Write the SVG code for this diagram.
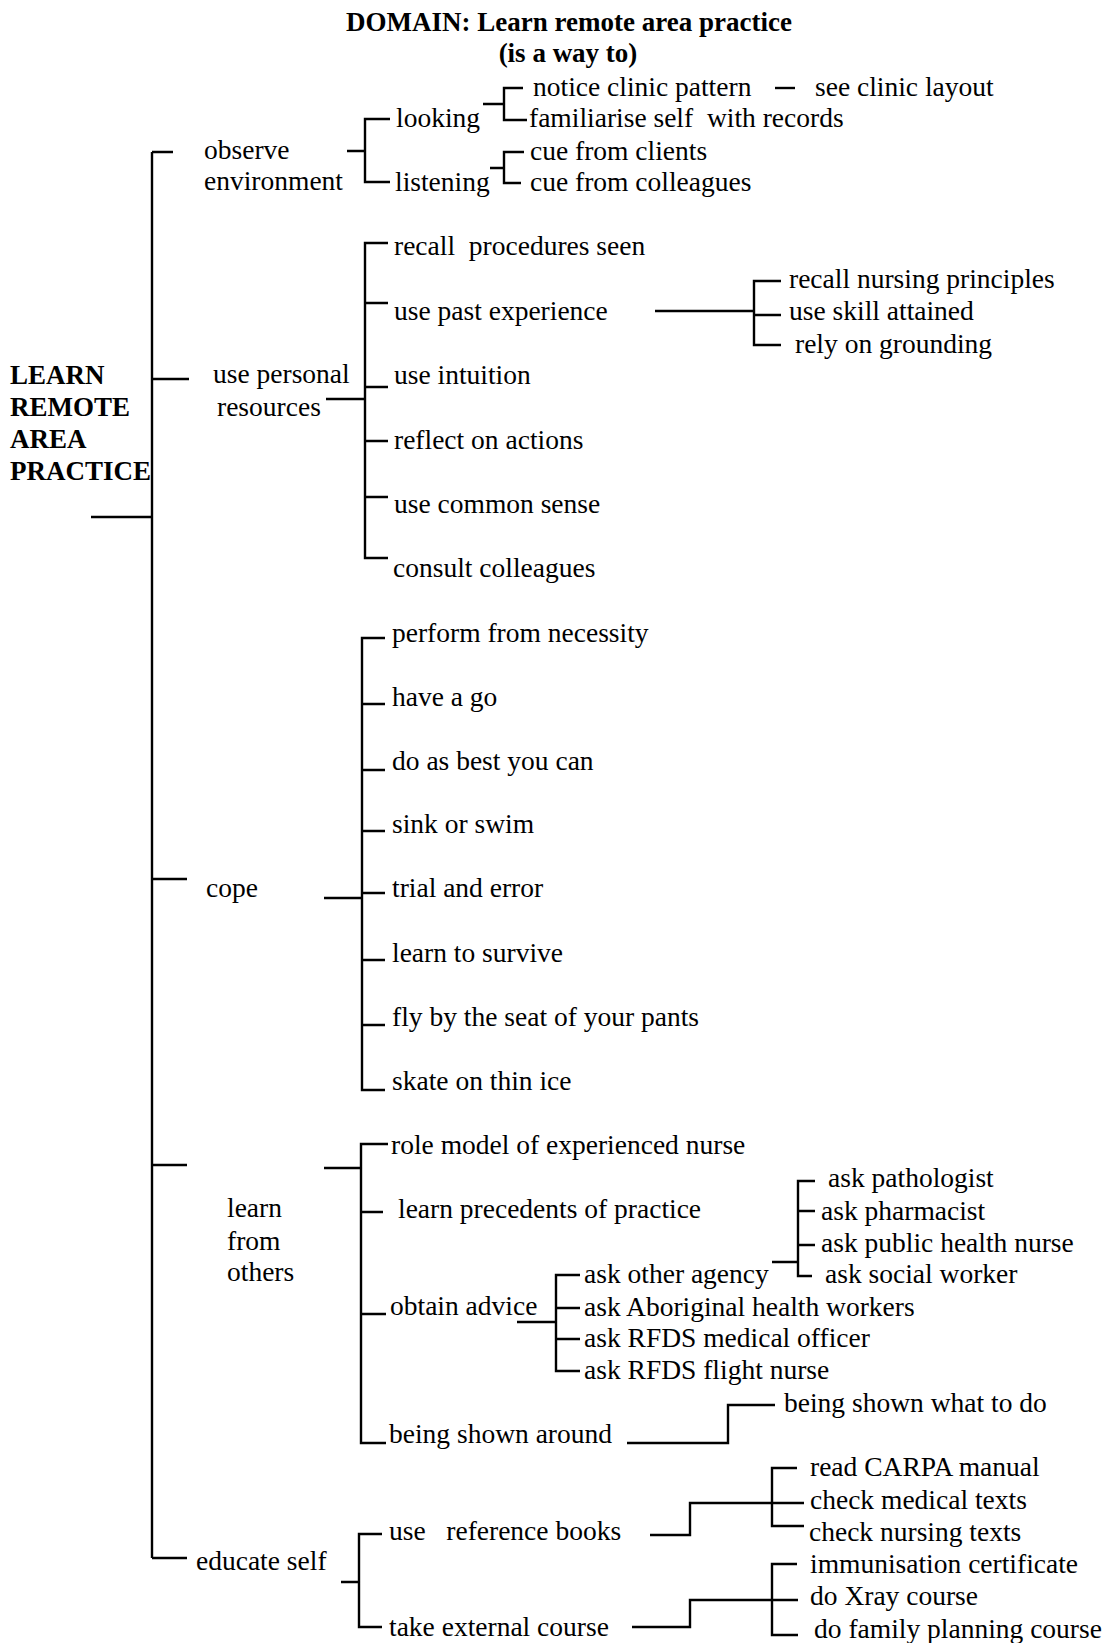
<svg xmlns="http://www.w3.org/2000/svg" width="1115" height="1643" viewBox="0 0 1115 1643">
<style>
text{font-family:"Liberation Serif","Times New Roman",serif;font-size:27.5px;fill:#000;white-space:pre}
.b{font-weight:bold;font-size:27px}
.c{fill:none;stroke:#000;stroke-width:2.4}
</style>
<rect width="1115" height="1643" fill="#fff"/>
<g id="title">
<text class="b" x="569" y="31" text-anchor="middle">DOMAIN: Learn remote area practice</text>
<text class="b" x="568" y="62" text-anchor="middle">(is a way to)</text>
</g>
<g id="connectors" class="c">
<path class="c" d="M152,152 V1558 M91,517 H152 M152,152 H173 M152,379 H189 M152,879 H187 M152,1165 H187 M152,1558 H187"/>
<path class="c" d="M347,151 H365 M390,119 H365 V182 H390"/>
<path class="c" d="M483,104 H504 M523,88 H504 V120 H527"/>
<path class="c" d="M490,168 H504 M524,152 H504 V183 H521"/>
<path class="c" d="M775,88 H795"/>
<path class="c" d="M326,399 H365 M388,243 H365 V558 H388 M365,303 H388 M365,387 H388 M365,441 H388 M365,497 H388"/>
<path class="c" d="M655,311 H754 M781,281 H754 V345 H781 M754,315 H781"/>
<path class="c" d="M324,898 H362 M385,638 H362 V1090 H385 M362,704 H385 M362,770 H385 M362,831 H385 M362,893 H385 M362,960 H385 M362,1025 H385"/>
<path class="c" d="M324,1168 H361 M388,1144 H361 V1443 H386 M361,1212 H383 M361,1314 H386"/>
<path class="c" d="M517,1322 H556 M580,1275 H556 V1371 H580 M556,1308 H580 M556,1339 H580"/>
<path class="c" d="M772,1262 H798 M815,1181 H798 V1276 H812 M798,1211 H815 M798,1245 H815"/>
<path class="c" d="M627,1443 H728 V1405 H775"/>
<path class="c" d="M341,1582 H359 M382,1534 H359 V1627 H382"/>
<path class="c" d="M650,1535 H690 V1503 H804 M797,1468 H772 V1526 H804"/>
<path class="c" d="M632,1627 H690 V1600 H798 M797,1564 H772 V1635 H798"/>
</g>
<g id="root">
<text class="b" x="10" y="384">LEARN</text>
<text class="b" x="10" y="416">REMOTE</text>
<text class="b" x="10" y="448">AREA</text>
<text class="b" x="10" y="480">PRACTICE</text>
</g>
<g id="observe-environment"><text x="204" y="159">observe</text><text x="204" y="190">environment</text></g>
<g id="looking"><text x="396" y="127">looking</text></g>
<g id="listening"><text x="395" y="191">listening</text></g>
<g id="notice-clinic-pattern"><text x="533" y="96">notice clinic pattern</text></g>
<g id="see-clinic-layout"><text x="815" y="96">see clinic layout</text></g>
<g id="familiarise-self"><text x="529" y="127">familiarise self  with records</text></g>
<g id="cue-from-clients"><text x="530" y="160">cue from clients</text></g>
<g id="cue-from-colleagues"><text x="530" y="191">cue from colleagues</text></g>

<g id="use-personal-resources"><text x="213" y="383">use personal</text><text x="217" y="416">resources</text></g>
<g id="recall-procedures-seen"><text x="394" y="255">recall  procedures seen</text></g>
<g id="use-past-experience"><text x="394" y="320">use past experience</text></g>
<g id="use-intuition"><text x="394" y="384">use intuition</text></g>
<g id="reflect-on-actions"><text x="394" y="449">reflect on actions</text></g>
<g id="use-common-sense"><text x="394" y="513">use common sense</text></g>
<g id="consult-colleagues"><text x="393" y="577">consult colleagues</text></g>
<g id="recall-nursing-principles"><text x="789" y="288">recall nursing principles</text></g>
<g id="use-skill-attained"><text x="789" y="320">use skill attained</text></g>
<g id="rely-on-grounding"><text x="795" y="353">rely on grounding</text></g>

<g id="cope"><text x="206" y="897">cope</text></g>
<g id="perform-from-necessity"><text x="392" y="642">perform from necessity</text></g>
<g id="have-a-go"><text x="392" y="706">have a go</text></g>
<g id="do-as-best-you-can"><text x="392" y="770">do as best you can</text></g>
<g id="sink-or-swim"><text x="392" y="833">sink or swim</text></g>
<g id="trial-and-error"><text x="392" y="897">trial and error</text></g>
<g id="learn-to-survive"><text x="392" y="962">learn to survive</text></g>
<g id="fly-by-the-seat"><text x="392" y="1026">fly by the seat of your pants</text></g>
<g id="skate-on-thin-ice"><text x="392" y="1090">skate on thin ice</text></g>

<g id="learn-from-others"><text x="227" y="1217">learn</text><text x="227" y="1250">from</text><text x="227" y="1281">others</text></g>
<g id="role-model"><text x="391" y="1154">role model of experienced nurse</text></g>
<g id="learn-precedents"><text x="398" y="1218">learn precedents of practice</text></g>
<g id="obtain-advice"><text x="390" y="1315">obtain advice</text></g>
<g id="being-shown-around"><text x="389" y="1443">being shown around</text></g>
<g id="ask-other-agency"><text x="584" y="1283">ask other agency</text></g>
<g id="ask-aboriginal"><text x="584" y="1316">ask Aboriginal health workers</text></g>
<g id="ask-rfds-medical"><text x="584" y="1347">ask RFDS medical officer</text></g>
<g id="ask-rfds-flight"><text x="584" y="1379">ask RFDS flight nurse</text></g>
<g id="ask-pathologist"><text x="828" y="1187">ask pathologist</text></g>
<g id="ask-pharmacist"><text x="821" y="1220">ask pharmacist</text></g>
<g id="ask-public-health-nurse"><text x="821" y="1252">ask public health nurse</text></g>
<g id="ask-social-worker"><text x="825" y="1283">ask social worker</text></g>
<g id="being-shown-what"><text x="784" y="1412">being shown what to do</text></g>

<g id="educate-self"><text x="196" y="1570">educate self</text></g>
<g id="use-reference-books"><text x="389" y="1540">use   reference books</text></g>
<g id="take-external-course"><text x="389" y="1636">take external course</text></g>
<g id="read-carpa"><text x="810" y="1476">read CARPA manual</text></g>
<g id="check-medical"><text x="810" y="1509">check medical texts</text></g>
<g id="check-nursing"><text x="809" y="1541">check nursing texts</text></g>
<g id="immunisation"><text x="810" y="1573">immunisation certificate</text></g>
<g id="do-xray"><text x="810" y="1605">do Xray course</text></g>
<g id="do-family-planning"><text x="814" y="1638">do family planning course</text></g>
</svg>
